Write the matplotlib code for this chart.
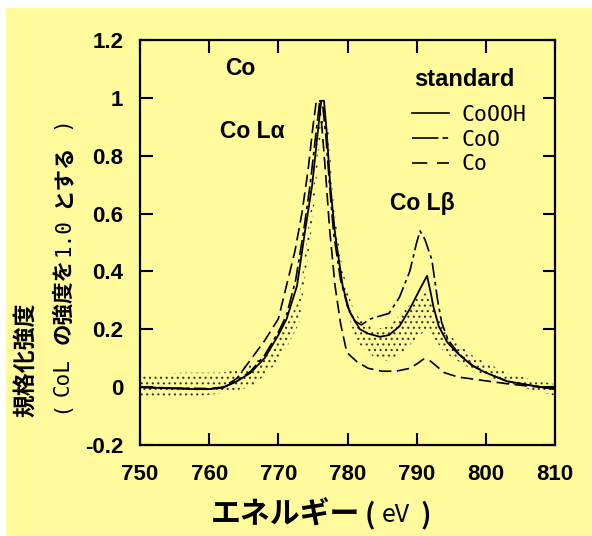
import matplotlib
matplotlib.use("Agg")
import matplotlib.pyplot as plt
from matplotlib.lines import Line2D
from matplotlib.patches import Rectangle
from matplotlib.font_manager import FontProperties

plt.rcParams['lines.scale_dashes'] = False
plt.rcParams['hatch.linewidth'] = 0.8

# ---------------- data ----------------
cooh_x = [750, 754, 758, 760, 762, 764, 766, 768, 770, 771.2, 772.7, 773.8, 774.9, 775.6, 776.2,
          776.6, 777.0, 777.5, 778.2, 779.3, 780.3, 781.8, 783, 784.7, 786, 787.5, 789, 790.5,
          791.5, 792.0, 792.4, 793.2, 794.4, 796, 798.1, 800, 803, 806, 810]
cooh_y = [0.0, -0.004, -0.007, -0.007, -0.002, 0.02, 0.05, 0.10, 0.18, 0.236, 0.35, 0.53, 0.70,
          0.86, 0.99, 0.99, 0.88, 0.70, 0.53, 0.35, 0.26, 0.20, 0.185, 0.174, 0.18, 0.21, 0.27,
          0.34, 0.385, 0.33, 0.28, 0.21, 0.156, 0.115, 0.073, 0.05, 0.021, 0.008, -0.007]

coo_x = [750, 756, 760, 762, 764, 766, 768, 770, 771.2, 772.5, 773.6, 774.6, 775.4, 776.0, 776.4,
         776.9, 777.4, 778.0, 779.0, 780.0, 781.0, 782.0, 783.2, 784.7, 786.0, 787.5, 789.0,
         790.0, 790.5, 791.2, 792.2, 793.0, 793.6, 794.5, 796, 798.1, 800, 803, 806, 810]
coo_y = [0.0, -0.004, -0.006, -0.001, 0.022, 0.055, 0.11, 0.19, 0.25, 0.37, 0.53, 0.70, 0.87,
         0.99, 0.98, 0.86, 0.70, 0.53, 0.37, 0.28, 0.23, 0.215, 0.235, 0.246, 0.255, 0.31, 0.40,
         0.50, 0.54, 0.51, 0.44, 0.305, 0.225, 0.165, 0.118, 0.075, 0.05, 0.021, 0.008, -0.007]

co_x = [750, 756, 760, 762, 764, 766, 768, 770, 772.4, 773.4, 774.3, 775.0, 775.5, 775.9, 776.3,
        776.8, 777.4, 778.2, 779.0, 779.9, 781.4, 783, 785, 787, 789, 790, 791, 792, 793, 794,
        796, 799, 803, 806, 810]
co_y = [0.0, -0.004, -0.005, 0.0, 0.03, 0.095, 0.16, 0.236, 0.47, 0.60, 0.75, 0.90, 0.99, 0.98,
        0.90, 0.75, 0.55, 0.35, 0.22, 0.12, 0.087, 0.065, 0.055, 0.055, 0.065, 0.08, 0.097, 0.09,
        0.07, 0.05, 0.035, 0.025, 0.012, 0.004, -0.005]

# measured sample (stippled band: lower / upper extent of the dots)
sample_x = [750, 753, 756, 759, 762, 764, 766, 768, 770, 771.5, 773, 774, 775, 776, 776.6, 777.3,
            778, 779, 780, 781, 782, 784, 786, 788, 790, 791.5, 792.5, 794, 796, 798, 800, 803,
            806, 810]
sample_lo = [-0.03, -0.03, -0.035, -0.03, -0.02, -0.01, 0.0, 0.04, 0.09, 0.15, 0.22, 0.40, 0.58,
             0.85, 0.93, 0.82, 0.57, 0.38, 0.26, 0.18, 0.14, 0.10, 0.09, 0.12, 0.17, 0.20, 0.17,
             0.12, 0.09, 0.06, 0.04, 0.01, -0.005, -0.03]
sample_hi = [0.045, 0.045, 0.05, 0.05, 0.05, 0.06, 0.08, 0.11, 0.17, 0.23, 0.30, 0.49, 0.67,
             0.92, 0.97, 0.88, 0.63, 0.45, 0.33, 0.26, 0.23, 0.20, 0.21, 0.26, 0.31, 0.33, 0.29,
             0.20, 0.15, 0.11, 0.085, 0.05, 0.03, 0.01]

x_ticks = [750, 760, 770, 780, 790, 800, 810]
y_ticks = [-0.2, 0, 0.2, 0.4, 0.6, 0.8, 1.0, 1.2]
y_ticklabels = ['-0.2', '0', '0.2', '0.4', '0.6', '0.8', '1', '1.2']
legend_labels = ['CoOOH', 'CoO', 'Co']

# ---------------- figure ----------------
W, H = 592, 536
BG = '#fffb9d'
fig = plt.figure(figsize=(W / 100, H / 100), dpi=100, facecolor='white')
fig.patches.append(Rectangle((6 / W, 0), 1 - 6 / W, 1 - 8 / H, transform=fig.transFigure,
                             facecolor=BG, edgecolor='none', zorder=-10))

ax = fig.add_axes([140 / W, 1 - 445 / H, (555 - 140) / W, (445 - 40) / H])
ax.set_facecolor(BG)

# sample dots
ax.fill_between(sample_x, sample_lo, sample_hi, facecolor='none', edgecolor='#333333',
                hatch='...', linewidth=0, zorder=1)

DASHDOT = (0, (11, 3, 2.5, 3))
DASHED = (0, (9, 4))
ax.plot(cooh_x, cooh_y, color='black', lw=1.3, zorder=3)
ax.plot(coo_x, coo_y, color='black', lw=1.2, linestyle=DASHDOT, zorder=3)
ax.plot(co_x, co_y, color='black', lw=1.2, linestyle=DASHED, zorder=3)

ax.set_xlim(750, 810)
ax.set_ylim(-0.2, 1.2)
ax.set_xticks(x_ticks)
ax.set_yticks(y_ticks)
ax.set_yticklabels(y_ticklabels)
tickfp = FontProperties(family='Liberation Sans', weight='bold', size=16)
for lab in ax.get_xticklabels() + ax.get_yticklabels():
    lab.set_fontproperties(tickfp)
ax.tick_params(direction='in', length=9, width=1.5, top=True, right=True, colors='black')
ax.tick_params(axis='x', pad=14)
ax.tick_params(axis='y', pad=12)
for sp in ax.spines.values():
    sp.set_linewidth(1.6)

# annotations
annfont = dict(family='Liberation Sans', weight='bold', size=16.5)
ax.text(762.3, 1.102, 'Co', ha='left', va='center', **annfont)
ax.text(761.6, 0.884, 'Co Lα', ha='left', va='center', **annfont)
ax.text(786.1, 0.634, 'Co Lβ', ha='left', va='center', **annfont)
ax.text(789.7, 1.062, 'standard', ha='left', va='center', family='Liberation Sans',
        weight='bold', size=17)

handles = [Line2D([], [], color='black', lw=1.2),
           Line2D([], [], color='black', lw=1.2, linestyle=(0, (19, 3, 4, 3))),
           Line2D([], [], color='black', lw=1.2, linestyle=(0, (11, 7)))]
leg = ax.legend(handles, legend_labels, loc='upper left', bbox_to_anchor=(0.655, 0.84),
                frameon=False, prop=dict(family='DejaVu Sans Mono', size=15.5),
                handlelength=1.75, handletextpad=0.55, labelspacing=0.22, borderpad=0,
                borderaxespad=0)

# ---------------- multi-font axis labels (pieces placed at measured centres) ----------------
JP = ['Noto Sans CJK JP', 'DejaVu Sans']


def vtext(xc, yc_top, s, **kw):
    fig.text(xc / W, 1 - yc_top / H, s, rotation=90, ha='center', va='center', **kw)


def htext(xc, yc_top, s, **kw):
    fig.text(xc / W, 1 - yc_top / H, s, ha='center', va='center', **kw)


vtext(26, 360, '規格化強度', family=JP, weight='bold', size=16.5)
vtext(63, 409, '(', family='DejaVu Sans', size=15)
vtext(63, 377, 'CoL', family='DejaVu Sans Mono', size=15)
vtext(63, 301.5, 'の強度を', family=JP, weight='bold', size=15.5)
vtext(63, 237.5, '1.0', family='DejaVu Sans Mono', size=15)
vtext(63, 176, 'とする', family=JP, weight='bold', size=15.5)
vtext(63, 125, ')', family='DejaVu Sans', size=15)

htext(285, 515, 'エネルギー', family=JP, weight='bold', size=21.5)
htext(370, 515, '(', family=JP, weight='bold', size=20)
htext(396, 515, 'eV', family=JP, weight='normal', size=18)
htext(426, 515, ')', family=JP, weight='bold', size=20)

fig.savefig('out.png', dpi=100, facecolor=fig.get_facecolor())
